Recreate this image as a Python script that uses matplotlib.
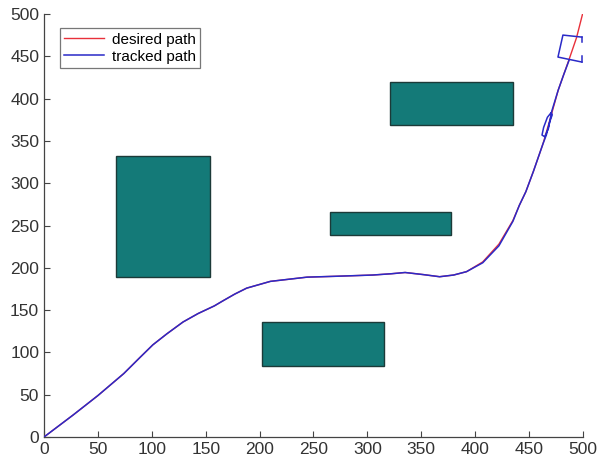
import matplotlib
matplotlib.use("Agg")
import matplotlib.pyplot as plt
from matplotlib.patches import Rectangle
import numpy as np

plt.rcParams['font.family'] = ['Liberation Sans', 'DejaVu Sans']

# Obstacles: (x, y, width, height)
obstacles = [
    (67, 189, 87, 143),
    (321, 369, 114, 51),
    (265, 239, 113, 27),
    (202, 84, 113, 52),
]

desired_x = [0, 27, 50, 74, 89, 101, 114, 129, 143, 158, 166, 177, 188, 210, 244, 270, 305, 322, 335, 352, 367, 380, 392, 407, 422, 435, 441, 447, 454, 463, 470, 477, 487, 494, 500]
desired_y = [0, 26, 49, 75, 94, 109, 122, 136, 146, 155, 161, 169, 176, 184, 189, 190, 191.5, 193, 194.5, 192, 189.5, 191.5, 195.5, 207, 228, 256, 274, 290, 314, 347, 378, 410, 446, 472, 502]

tracked_x = [0, 27, 50, 74, 89, 101, 114, 129, 143, 158, 166, 177, 188, 210, 244, 270, 305, 322, 335, 352, 367, 380, 392, 407, 422, 435, 441, 447, 454, 463, 466, 469, 471.5, 470.5, 467, 463.5, 462, 464.5, 468, 471, 477, 482, 487]
tracked_y = [0, 26, 49, 75, 94, 109, 122, 136, 146, 155, 161, 169, 176, 184, 189, 190, 191.5, 193, 194.5, 192, 189.5, 191.5, 195.5, 206, 226, 255, 274, 290, 314, 347, 357, 372, 381, 383.5, 378, 366, 357, 355, 365, 385, 410, 428, 445]

vehicle_x = [499, 481.4, 476.8, 499]
vehicle_y = [472.8, 475.2, 449.2, 443.3]
vehicle_tick_x = [[499, 499], [499, 499]]
vehicle_tick_y = [[472.8, 467], [443.3, 450.5]]

fig = plt.figure(figsize=(5.97, 4.70), dpi=100)
ax = fig.add_axes([0.0737, 0.0702, 0.9028, 0.8998])

for (x, y, w, h) in obstacles:
    ax.add_patch(Rectangle((x, y), w, h, facecolor='#147a78', edgecolor='#1c3a38', linewidth=1.0, zorder=1))

ax.plot(desired_x, desired_y, color='#e8303a', linewidth=1.0, label='desired path', zorder=3)
ax.plot(tracked_x, tracked_y, color='#2a2ac8', linewidth=1.1, label='tracked path', zorder=4)
ax.plot(vehicle_x, vehicle_y, color='#2a2ac8', linewidth=1.1, zorder=4)
for tx, ty in zip(vehicle_tick_x, vehicle_tick_y):
    ax.plot(tx, ty, color='#2a2ac8', linewidth=1.1, zorder=4)

ax.set_xlim(0, 500)
ax.set_ylim(0, 500)
ax.set_xticks(np.arange(0, 501, 50))
ax.set_yticks(np.arange(0, 501, 50))
ax.spines['top'].set_visible(False)
ax.spines['right'].set_visible(False)
for s in ['left', 'bottom']:
    ax.spines[s].set_color('#444444')
    ax.spines[s].set_linewidth(0.9)
ax.tick_params(direction='in', length=4, width=0.8, colors='#444444', labelsize=12.5, labelcolor='#333333')

leg = ax.legend(loc='upper left', bbox_to_anchor=(0.015, 0.985), fontsize=11, frameon=True, fancybox=False,
                edgecolor='#555555', handlelength=2.6, borderpad=0.3, labelspacing=0.2, handletextpad=0.5)
leg.get_frame().set_linewidth(0.9)

fig.savefig('out.png', dpi=100)
